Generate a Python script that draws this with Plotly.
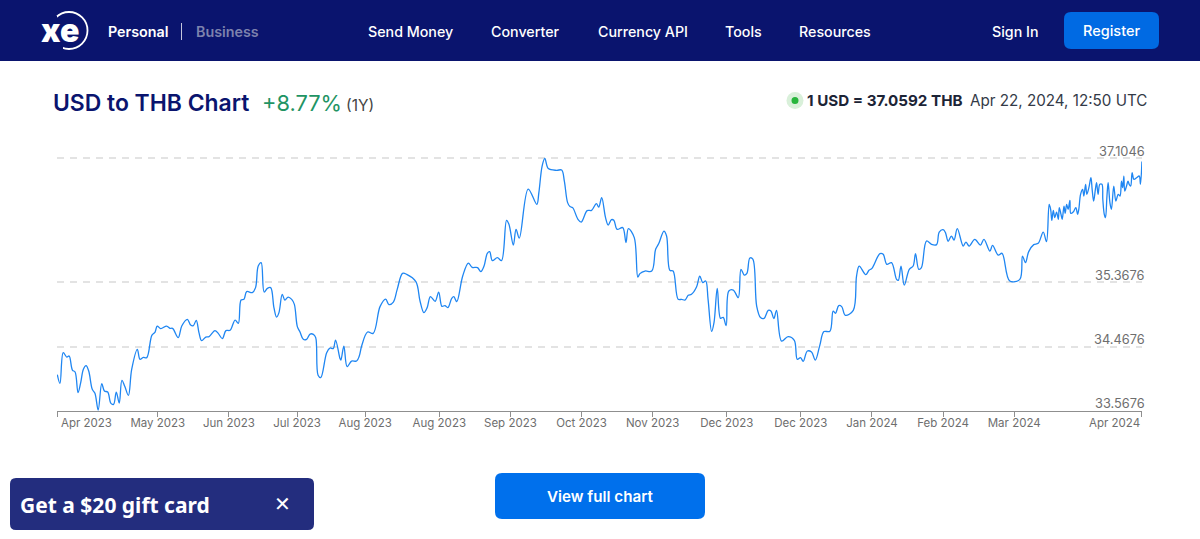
import pandas as pd
import plotly.graph_objects as go

START_DATE = "2023-04-22"
days_since_start = [
0.1,1.0,2.1,3.3,4.1,5.2,6.1,7.1,8.0,8.9,9.8,10.7,11.9,12.8,13.9,15.1,16.0,17.1,18.2,19.1,20.0,21.0,21.9,22.9,24.1,25.2,27.1,28.0,29.1,30.3,
32.0,33.1,33.8,35.0,37.0,38.1,39.0,40.9,42.1,44.0,45.1,46.0,47.0,47.9,48.8,50.2,51.3,53.3,54.4,55.8,57.0,58.4,60.1,61.2,62.1,63.1,64.0,65.9,67.0,67.9,
68.9,69.9,71.0,72.1,73.2,74.1,74.9,76.0,76.9,78.0,79.2,80.1,81.1,82.0,83.1,84.2,85.4,86.5,87.3,88.1,89.0,91.0,92.1,93.2,94.0,95.5,95.8,96.8,97.9,99.4,
101.1,102.0,102.8,104.8,106.7,109.0,110.9,112.0,113.5,114.8,116.6,118.0,121.1,122.5,123.8,124.9,126.0,127.6,128.8,129.9,130.9,131.9,133.2,133.9,134.9,136.9,138.8,140.1,141.9,143.0,
144.1,145.2,146.0,146.9,148.6,150.0,151.7,152.5,154.0,154.9,156.0,159.0,161.9,162.6,163.7,164.6,165.8,168.6,170.3,171.2,172.3,173.1,174.0,175.8,176.9,178.9,180.4,182.0,182.8,183.8,
185.1,186.0,187.1,187.9,189.0,190.9,192.0,192.8,194.8,196.0,196.7,198.4,200.7,202.0,203.1,204.8,205.7,206.8,207.9,209.6,210.8,211.9,213.0,214.1,215.8,216.9,217.9,218.9,219.7,220.9,
221.7,222.8,223.9,224.8,225.8,226.7,228.2,229.9,230.8,231.9,232.8,233.8,234.8,236.1,237.4,238.6,240.0,240.9,241.9,242.8,244.5,246.7,248.8,249.8,250.9,251.8,253.2,254.6,255.9,257.4,
258.8,260.8,261.9,262.7,263.8,264.8,266.0,268.7,269.8,270.7,272.9,274.0,275.0,277.7,278.8,280.0,281.6,283.3,283.9,284.8,285.9,287.6,288.9,289.7,290.8,291.7,293.4,295.1,296.8,297.7,
299.0,299.8,300.7,301.8,302.7,303.8,305.8,306.7,307.8,309.7,311.6,312.8,314.8,315.7,317.6,318.9,321.5,324.9,325.8,326.8,327.9,329.6,331.1,332.8,333.9,334.8,
335.3,335.7,336.2,336.7,337.3,337.9,338.2,338.8,339.2,339.8,340.2,340.7,341.2,341.8,342.1,342.9,343.8,344.4,344.8,345.4,346.1,346.5,347.1,347.5,348.2,348.9,349.3,349.8,350.4,350.8,
351.3,351.9,352.6,352.9,353.4,353.8,354.3,354.7,355.3,355.8,356.6,357.3,358.1,358.7,359.2,359.6,360.0,360.3,360.9,361.4,361.8,362.3,362.8,363.4,364.3,365.2,365.6,366.1]
usd_thb = [
34.077,33.955,34.384,34.323,34.337,34.141,34.113,33.825,33.965,34.151,34.202,34.127,33.871,33.815,33.581,33.951,33.847,33.833,33.675,33.661,33.833,33.679,33.997,33.909,33.787,34.151,34.431,34.291,34.319,34.315,
34.627,34.673,34.757,34.721,34.757,34.725,34.725,34.595,34.757,34.851,34.771,34.763,34.837,34.665,34.553,34.603,34.609,34.693,34.655,34.581,34.693,34.697,34.841,34.795,35.121,35.131,35.239,35.225,35.295,35.597,
35.645,35.233,35.285,35.295,35.015,34.883,34.945,35.201,35.121,35.163,35.131,35.061,34.749,34.673,34.571,34.571,34.645,34.641,34.595,34.067,34.035,34.384,34.449,34.441,34.561,34.301,34.281,34.477,34.189,34.267,
34.267,34.337,34.477,34.673,34.655,35.029,35.135,35.057,35.093,35.271,35.495,35.481,35.379,35.107,34.945,35.015,35.169,35.103,35.233,35.033,35.043,35.015,35.145,35.169,35.099,35.457,35.639,35.579,35.575,35.519,
35.597,35.775,35.799,35.673,35.715,35.673,36.237,36.181,35.891,36.111,35.989,36.675,36.461,36.625,36.997,37.105,36.961,36.937,36.941,36.787,36.485,36.429,36.415,36.251,36.213,36.373,36.377,36.471,36.423,36.555,
36.275,36.171,36.247,36.237,36.111,36.135,35.925,36.121,35.995,35.443,35.491,35.527,35.527,35.831,35.915,36.087,36.017,35.537,35.527,35.131,35.131,35.121,35.187,35.201,35.303,35.457,35.365,35.387,35.131,34.683,
34.805,35.285,34.865,34.879,34.763,35.247,35.261,35.155,35.551,35.471,35.495,35.709,35.695,35.037,34.875,34.865,34.977,34.967,34.861,34.977,34.547,34.609,34.557,34.291,34.315,34.263,34.407,34.393,34.281,34.487,
34.679,34.683,34.967,34.935,35.043,35.029,34.907,34.977,35.457,35.597,35.477,35.537,35.565,35.771,35.761,35.621,35.645,35.411,35.397,35.597,35.331,35.551,35.597,35.771,35.551,35.575,35.947,35.901,35.897,36.073,
36.107,36.065,35.943,36.017,35.961,36.121,35.877,35.933,35.877,35.971,35.891,35.971,35.807,35.887,35.751,35.775,35.387,35.411,35.737,35.645,35.799,35.897,35.915,36.073,35.939,36.461,
36.391,36.237,36.377,36.274,36.353,36.251,36.414,36.321,36.251,36.437,36.335,36.461,36.391,36.517,36.335,36.353,36.414,36.321,36.391,36.601,36.671,36.577,36.741,36.601,36.694,36.834,36.671,36.507,36.671,36.764,
36.601,36.741,36.741,36.531,36.321,36.274,36.577,36.764,36.484,36.391,36.717,36.507,36.601,36.577,36.787,36.694,36.857,36.647,36.717,36.787,36.741,36.717,36.904,36.811,36.834,36.857,36.741,37.059]

y_ticks = [33.5676, 34.4676, 35.3676, 37.1046]
x_tick_dates = ["2023-04-22","2023-05-26","2023-06-19","2023-07-12","2023-08-04","2023-08-29","2023-09-22","2023-10-16",
                "2023-11-09","2023-12-04","2023-12-29","2024-01-22","2024-02-15","2024-03-10","2024-04-22"]
x_tick_labels = ["","May 2023","Jun 2023","Jul 2023","Aug 2023","Aug 2023","Sep 2023","Oct 2023","Nov 2023",
                 "Dec 2023","Dec 2023","Jan 2024","Feb 2024","Mar 2024",""]

W, H = 1200, 539
L, R, T, B = 57, 1142, 144, 411
FONT = "Inter, Roboto, sans-serif"
NAVY = "#0a146e"
AXIS_TEXT = "#6e6e6e"

def px(x): return (x - L) / (R - L)
def py(y): return (B - y) / (B - T)

dates = pd.Timestamp(START_DATE) + pd.to_timedelta(days_since_start, unit="D")

fig = go.Figure(go.Scatter(x=dates, y=usd_thb, mode="lines", hoverinfo="skip",
                           line=dict(color="#1f86f2", width=1.3, shape="spline", smoothing=1.0)))

def rect(x0, y0, x1, y1, color, r=0):
    if r == 0:
        p = f"M{px(x0)},{py(y0)}L{px(x1)},{py(y0)}L{px(x1)},{py(y1)}L{px(x0)},{py(y1)}Z"
    else:
        rx, ry = r / (R - L), r / (B - T)
        a, b, c, d = px(x0), px(x1), py(y0), py(y1)
        p = (f"M{a+rx},{c}L{b-rx},{c}Q{b},{c} {b},{c-ry}L{b},{d+ry}Q{b},{d} {b-rx},{d}"
             f"L{a+rx},{d}Q{a},{d} {a},{d+ry}L{a},{c-ry}Q{a},{c} {a+rx},{c}Z")
    return dict(type="path", path=p, xref="paper", yref="paper", fillcolor=color, line_width=0, layer="above")

def circle(cx, cy, r, fill, line=None, w=0):
    return dict(type="circle", xref="paper", yref="paper", x0=px(cx-r), x1=px(cx+r), y0=py(cy+r), y1=py(cy-r),
                fillcolor=fill, line=dict(color=line or fill, width=w), layer="above")

shapes = [
    rect(0, 0, W, 61, NAVY),
    rect(1064, 12, 1159, 49, "#006ae3", 7),
    rect(495, 473, 705, 519, "#0070ec", 7),
    rect(10, 478, 314, 530, "#232d7e", 6),
    dict(type="line", xref="paper", yref="paper", x0=px(181.5), x1=px(181.5), y0=py(23), y1=py(40),
         line=dict(color="#c4c6dc", width=1), layer="above"),
    circle(69, 30.5, 18.5, "rgba(0,0,0,0)", "white", 1.8),
    rect(45, 16, 57, 47, NAVY),
    rect(45, 33, 63, 52, NAVY),
    circle(795, 100.5, 8.5, "#d9f0da"),
    circle(795, 100.5, 3.5, "#27b53c"),
]
fig.update_layout(shapes=shapes)

def text(x, y, s, size=15, color="#ffffff", weight=400, anchor="left", family=FONT):
    fig.add_annotation(xref="paper", yref="paper", x=px(x), y=py(y), text=s, showarrow=False,
                       xanchor=anchor, yanchor="middle", borderpad=0, borderwidth=0,
                       font=dict(family=family, size=size, color=color, weight=weight))

text(41, 30, "xe", 32, "white", 900)
text(108, 31, "Personal", 14.3, "white", 600)
text(196, 31, "Business", 14.3, "#7d82ad", 600)
for x, s in [(368, "Send Money"), (491, "Converter"), (598, "Currency API"), (725, "Tools"),
             (799, "Resources"), (992, "Sign In")]:
    text(x, 31, s, 14.25, "white", 500)
text(1111.5, 31, "Register", 14.5, "white", 500, "center")

text(53, 103, "USD to THB Chart", 22.9, NAVY, 600)
text(261.5, 103, "+8.77%", 21.8, "#1f9464", 400)
text(345.5, 105, "(1Y)", 15.5, "#444444", 400)
text(807, 100.5, "1 USD = 37.0592 THB", 15.2, "#1c2436", 700)
text(970, 100.5, "Apr 22, 2024, 12:50 UTC", 15.2, "#333a47", 400)

text(61, 422.5, "Apr 2023", 11.5, AXIS_TEXT)
text(1140, 422.5, "Apr 2024", 11.5, AXIS_TEXT, 400, "right")

for v, y in zip(y_ticks, [403, 339, 275, 151]):
    text(1145, y, f"{v:.4f}", 12.8, AXIS_TEXT, 400, "right")

text(600, 496, "View full chart", 15.2, "white", 600, "center")
text(20, 505, "Get a $20 gift card", 21, "white", 700, family="Noto Sans")
text(282.5, 503.5, "✕", 20, "white", 700, "center", family="DejaVu Sans")

fig.update_layout(
    width=W, height=H, autosize=False, showlegend=False,
    margin=dict(l=L, r=W - R, t=T, b=H - B, pad=0),
    paper_bgcolor="white", plot_bgcolor="white",
    font=dict(family=FONT, size=12, color=AXIS_TEXT),
    xaxis=dict(range=[pd.Timestamp(START_DATE), pd.Timestamp("2024-04-22 03:00")],
               tickmode="array", tickvals=x_tick_dates, ticktext=x_tick_labels,
               showgrid=False, zeroline=False, showline=True, linecolor="#8f8f8f", linewidth=1,
               ticks="outside", ticklen=5, tickcolor="#8f8f8f", tickwidth=1, ticklabelstandoff=-4,
               tickfont=dict(size=11.5, color=AXIS_TEXT, family=FONT)),
    yaxis=dict(range=[33.5676, 33.5676 + (B - T) / 71.43], side="right",
               tickmode="array", tickvals=y_ticks, showticklabels=False, ticks="",
               zeroline=False, showline=False,
               showgrid=True, gridcolor="#e3e3e3", griddash="7px,6px", gridwidth=1.5),
)

fig.write_html("out.html", config=dict(displayModeBar=False),
               post_script="document.body.style.margin='0';document.documentElement.style.overflow='hidden';")
